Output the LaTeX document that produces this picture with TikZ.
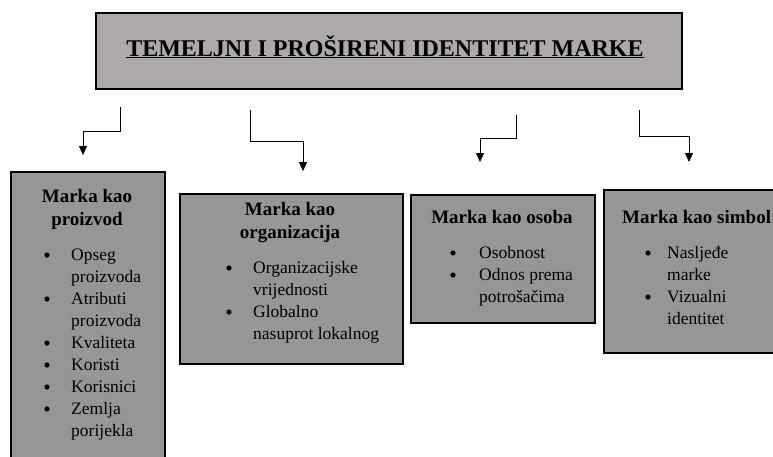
\documentclass[tikz,border=0pt]{standalone}
\usepackage{fontspec}
\setmainfont{Liberation Serif}
\usetikzlibrary{arrows.meta}
\definecolor{titlefill}{HTML}{ADA9A8}
\definecolor{boxfill}{HTML}{969696}
\tikzset{
  panel/.style={draw=black, line width=1.6pt, fill=boxfill, inner sep=0pt, anchor=north west},
  head/.style={font=\fontsize{19}{23}\selectfont\bfseries, inner sep=0pt},
  items/.style={font=\fontsize{17.5}{22}\selectfont, inner sep=0pt, anchor=base west},
  link/.style={line width=0.8pt, -{Triangle[length=9pt,width=8pt]}},
  dot/.style={fill=black},
}
\newcommand{\hlines}[1]{\begin{tabular}[t]{@{}c@{}}#1\end{tabular}}
\newcommand{\llines}[1]{\begin{tabular}[t]{@{}l@{}}#1\end{tabular}}
\begin{document}
\begin{tikzpicture}[x=1pt,y=-1pt]
\useasboundingbox (0,0) rectangle (773,456);
\clip (0,0) rectangle (773,456);
% title
\node[panel, fill=titlefill, minimum width=586pt, minimum height=76pt] (tbox) at (95,12) {};
\node[anchor=base, inner sep=0pt, font=\fontsize{24}{28}\selectfont\bfseries] (title) at (385,56)
  {\underline{TEMELJNI I PROŠIRENI IDENTITET MARKE}};
% boxes
\node[panel, minimum width=154pt, minimum height=300pt] (b1) at (10,171) {};
\node[panel, minimum width=223pt, minimum height=170pt] (b2) at (179,193) {};
\node[panel, minimum width=184pt, minimum height=128pt] (b3) at (410,194) {};
\node[panel, minimum width=200pt, minimum height=163pt] (b4) at (603,189) {};
% headings
\node[head, anchor=base] (h1) at (87,202) {\hlines{Marka kao\\proizvod}};
\node[head, anchor=base] (h2) at (290,215) {\hlines{Marka kao\\organizacija}};
\node[head, anchor=base] (h3) at (502,223) {Marka kao osoba};
\node[head, anchor=base west] (h4) at (622,223) {Marka kao simbol};
% lists
\node[items] (l1) at (71,260) {\llines{Opseg\\ proizvoda\\ Atributi\\ proizvoda\\ Kvaliteta\\ Koristi\\ Korisnici\\ Zemlja\\ porijekla}};
\node[items] (l2) at (253,273) {\llines{Organizacijske\\ vrijednosti\\ Globalno\\ nasuprot lokalnog}};
\node[items] (l3) at (479,258) {\llines{Osobnost\\ Odnos prema\\ potrošačima}};
\node[items] (l4) at (667,258) {\llines{Nasljeđe\\ marke\\ Vizualni\\ identitet}};
% bullets
\foreach \yy in {260,304,348,370,392,414} \fill[dot] (47,\yy-5) circle (2.6pt);
\foreach \yy in {273,317} \fill[dot] (229,\yy-5) circle (2.6pt);
\foreach \yy in {258,280} \fill[dot] (453,\yy-5) circle (2.6pt);
\foreach \yy in {258,302} \fill[dot] (648,\yy-5) circle (2.6pt);
% connectors
\coordinate (s1) at (120,107); \coordinate (e1) at (83,155);
\coordinate (s2) at (250,110); \coordinate (e2) at (303,171);
\coordinate (s3) at (516,115); \coordinate (e3) at (480,162);
\coordinate (s4) at (639,110); \coordinate (e4) at (689,162);
\draw[link] (s1) -- ++(0,24) -| (e1);
\draw[link] (s2) -- ++(0,31) -| (e2);
\draw[link] (s3) -- ++(0,23) -| (e3);
\draw[link] (s4) -- ++(0,26) -| (e4);
\end{tikzpicture}
\end{document}
